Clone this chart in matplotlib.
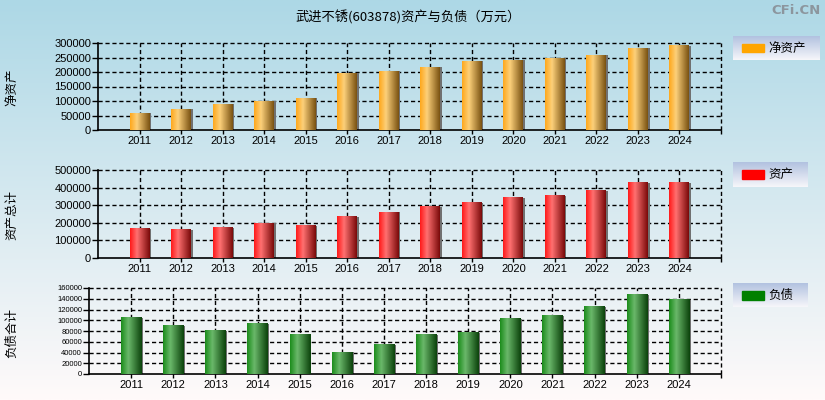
import matplotlib
matplotlib.use("Agg")
import matplotlib.pyplot as plt
import numpy as np
from matplotlib.colors import LinearSegmentedColormap
from matplotlib.patches import Rectangle

plt.rcParams['font.family'] = ['Noto Sans CJK SC', 'DejaVu Sans']

years = ["2011", "2012", "2013", "2014", "2015", "2016", "2017",
         "2018", "2019", "2020", "2021", "2022", "2023", "2024"]
net_assets = [58400, 72100, 89300, 99600, 110000, 195800, 202700,
              216400, 237000, 240500, 247300, 257600, 281700, 289700]
total_assets = [166700, 161000, 172300, 197000, 183700, 234800, 259500,
                291700, 314400, 342800, 354200, 382600, 428000, 428000]
total_liab = [104400, 89600, 80300, 93900, 72900, 40200, 54400,
              72900, 76600, 102500, 108100, 124800, 147000, 137800]

W, H = 825, 400
fig = plt.figure(figsize=(W / 100, H / 100), dpi=100)

# background gradient, light blue on top to near white at the bottom
bg = fig.add_axes([0, 0, 1, 1], zorder=-10)
top = np.array([173, 216, 230]) / 255
bot = np.array([255, 250, 250]) / 255
t = np.linspace(0, 1, 256)[:, None]
bg.imshow((top * (1 - t) + bot * t)[:, None, :].repeat(2, axis=1),
          aspect='auto', extent=(0, 1, 0, 1))
bg.axis('off')


def px(l, t_, r, b):
    return [l / W, (H - b) / H, (r - l) / W, (b - t_) / H]


def gradient_cmap(c_left, c_light, c_dark):
    return LinearSegmentedColormap.from_list(
        "g", [(0, c_left), (0.35, c_light), (1, c_dark)])


panels = [
    dict(vals=net_assets, rect=px(98, 43, 721, 130), ymax=300000, step=50000,
         cmap=gradient_cmap("#ffa81c", "#fcd07a", "#7a5212"), ytfs=8,
         label="净资产", lab_y=87, color="#ffa500", name="净资产",
         leg=(733, 36, 820, 60)),
    dict(vals=total_assets, rect=px(98, 170, 721, 258), ymax=500000, step=100000,
         cmap=gradient_cmap("#ff1a1a", "#ff7070", "#7a0a0a"), ytfs=8,
         label="资产总计", lab_y=215, color="#ff0000", name="资产",
         leg=(733, 162, 808, 187)),
    dict(vals=total_liab, rect=px(89, 288, 721, 374), ymax=160000, step=20000,
         cmap=gradient_cmap("#1c8c1c", "#6ab86a", "#0b420b"), ytfs=5.5,
         label="负债合计", lab_y=333, color="#008000", name="负债",
         leg=(733, 283, 808, 307)),
]

x = np.arange(1, len(years) + 1)
grad = np.linspace(0, 1, 64)[None, :]

for p in panels:
    ax = fig.add_axes(p["rect"])
    ax.set_facecolor("none")
    # shadow
    ax.bar(x + 0.04, p["vals"], width=0.48, color="#707070", zorder=2)
    bars = ax.bar(x, p["vals"], width=0.48, color="none", zorder=3)
    for b in bars:
        ax.imshow(grad, cmap=p["cmap"], aspect='auto', zorder=3,
                  extent=(b.get_x(), b.get_x() + b.get_width(), 0, b.get_height()))
    ax.set_xlim(0, 15)
    ax.set_ylim(0, p["ymax"])
    yt = np.arange(0, p["ymax"] + 1, p["step"])
    ax.set_yticks(yt)
    ax.set_yticklabels([str(v) for v in yt], fontsize=p["ytfs"],
                       family="Liberation Sans")
    ax.set_xticks(x)
    ax.set_xticklabels(years, fontsize=8, family="Liberation Sans")
    ax.set_xticks([15], minor=True)
    ax.tick_params(axis='x', which='both', length=3, width=1, pad=1)
    ax.tick_params(axis='y', length=4, width=1, pad=1)
    for v in yt[1:]:
        ax.axhline(v, color="black", lw=1, ls=(0, (3, 2)), zorder=1, clip_on=False)
    for v in list(x) + [15]:
        ax.axvline(v, color="black", lw=1, ls=(0, (3, 2)), zorder=1, clip_on=False)
    for s in ["top", "right"]:
        ax.spines[s].set_visible(False)
    for s in ["left", "bottom"]:
        ax.spines[s].set_linewidth(1.2)
    fig.text(12 / W, 1 - p["lab_y"] / H, p["label"], rotation=90,
             ha="center", va="center", fontsize=9)

    # legend box
    l, t_, r, b_ = p["leg"]
    lax = fig.add_axes(px(l, t_, r, b_))
    lt = np.array([178, 194, 224]) / 255
    lb = np.array([246, 246, 250]) / 255
    tt = np.linspace(0, 1, 64)[:, None]
    lax.imshow((lt * (1 - tt) + lb * tt)[:, None, :].repeat(2, axis=1),
               aspect='auto', extent=(l, r, b_, t_))
    lax.set_xlim(l, r)
    lax.set_ylim(b_, t_)
    lax.add_patch(Rectangle((742, (t_ + b_) / 2 - 4.5), 22, 9, color=p["color"]))
    lax.text(768, (t_ + b_) / 2, p["name"], fontsize=9, va="center", ha="left")
    lax.axis('off')

fig.text(408 / W, 1 - 17 / H, "武进不锈(603878)资产与负债（万元）",
         ha="center", va="center", fontsize=9.5)
fig.text(821 / W, 1 - 10 / H, "CFi.CN", ha="right", va="center",
         fontsize=9.5, fontweight="bold", color="#8c969e", family="DejaVu Sans")

fig.savefig("out.png", dpi=100)
